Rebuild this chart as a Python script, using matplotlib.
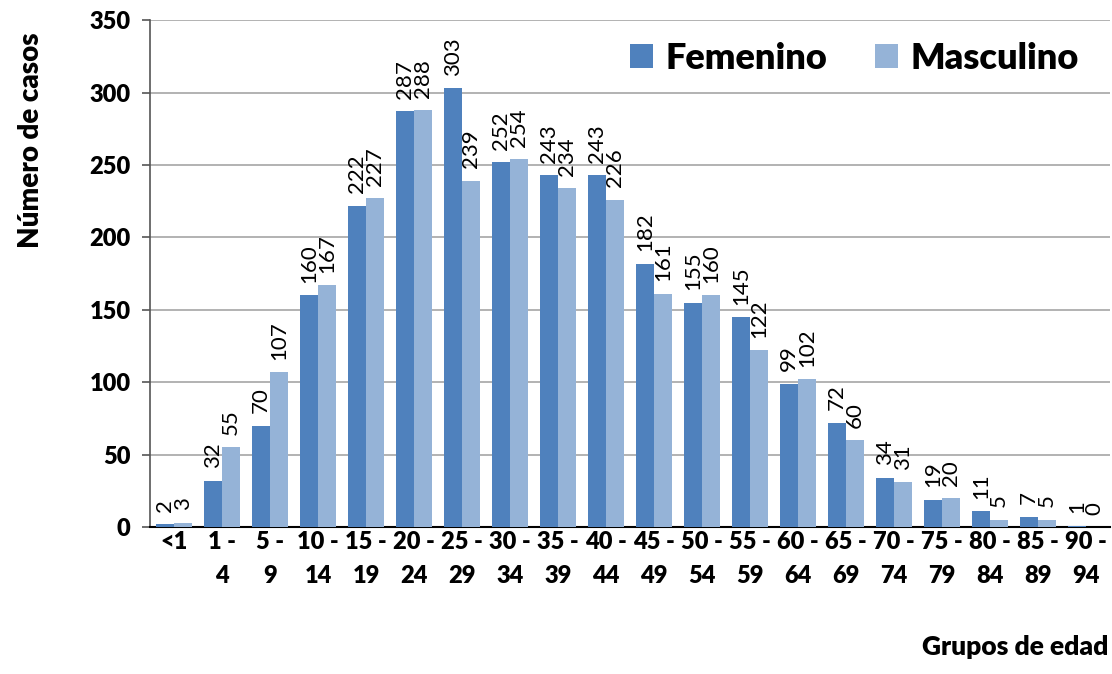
import numpy as np
import matplotlib.pyplot as plt

grupos = ['<1', '1 -\n4', '5 -\n9', '10 -\n14', '15 -\n19', '20 -\n24', '25 -\n29',
          '30 -\n34', '35 -\n39', '40 -\n44', '45 -\n49', '50 -\n54', '55 -\n59',
          '60 -\n64', '65 -\n69', '70 -\n74', '75 -\n79', '80 -\n84', '85 -\n89', '90 -\n94']
femenino = [2, 32, 70, 160, 222, 287, 303, 252, 243, 243, 182, 155, 145, 99, 72, 34, 19, 11, 7, 1]
masculino = [3, 55, 107, 167, 227, 288, 239, 254, 234, 226, 161, 160, 122, 102, 60, 31, 20, 5, 5, 0]

plt.rcParams['font.family'] = ['Lato', 'DejaVu Sans']
bold = 'heavy'

fig = plt.figure(figsize=(11.12, 6.74), dpi=100)
ax = fig.add_axes([0.135, 0.218, 0.863, 0.752])

x = np.arange(len(grupos))
w = 0.375
b1 = ax.bar(x - w / 2, femenino, w, color='#4F81BD', label='Femenino', zorder=3)
b2 = ax.bar(x + w / 2, masculino, w, color='#95B3D7', label='Masculino', zorder=3)

for bars, vals in ((b1, femenino), (b2, masculino)):
    for r, v in zip(bars, vals):
        ax.annotate(str(v), (r.get_x() + r.get_width() / 2, r.get_height()),
                    xytext=(0, 9), textcoords='offset points', rotation=90,
                    ha='center', va='bottom', fontsize=16)

ax.set_xlim(-0.5, len(grupos) - 0.5)
ax.set_ylim(0, 350)
ax.set_yticks(range(0, 351, 50))
ax.yaxis.grid(True, color='#A6A6A6', linewidth=1.2, zorder=0)
ax.set_xticks(x)
ax.set_xticklabels(grupos, fontsize=17, fontweight=bold, linespacing=1.65)
ax.tick_params(axis='x', length=0, pad=3)
ax.tick_params(axis='y', labelsize=17, length=6, width=1.2, color='#555555', pad=8)
for lbl in ax.get_yticklabels():
    lbl.set_fontweight(bold)

for s in ('top', 'right'):
    ax.spines[s].set_visible(False)
ax.spines['left'].set_color('#555555')
ax.spines['left'].set_linewidth(1.2)
ax.spines['bottom'].set_color('black')
ax.spines['bottom'].set_linewidth(1.5)

fig.text(0.028, 0.792, 'Número de casos', rotation=90, ha='center', va='center',
         fontsize=20, fontweight=bold)
fig.text(0.997, 0.022, 'Grupos de edad', ha='right', va='bottom', fontsize=19, fontweight=bold)

ax.legend(loc='upper right', bbox_to_anchor=(1.002, 1.022), frameon=False, ncol=2,
          prop={'size': 26, 'weight': bold}, handlelength=0.65, handleheight=0.65,
          handletextpad=0.35, columnspacing=1.3)

fig.savefig('out.png', dpi=100)
